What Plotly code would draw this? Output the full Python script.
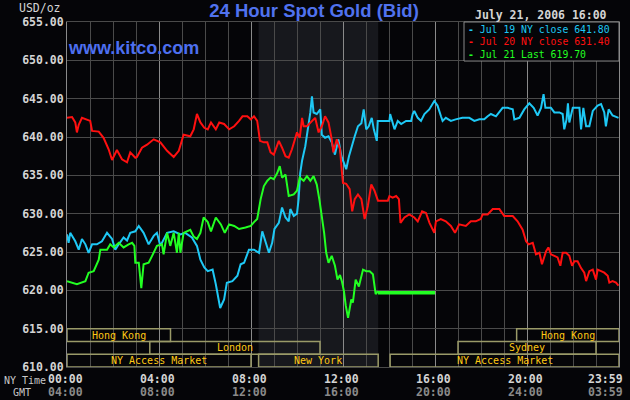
import plotly.graph_objects as go

# ------------------------
# Data (NY time in hours, price in USD/oz)
# ------------------------
jul19_hours = [0.00, 0.07, 0.14, 0.36, 0.51, 0.65, 0.80, 0.94, 1.09, 1.30, 1.52, 1.74, 1.96, 2.10,
               2.25, 2.46, 2.61, 2.75, 2.97, 3.12, 3.33, 3.55, 3.77, 3.91, 4.06, 4.35, 4.64, 4.93,
               5.14, 5.43, 5.65, 5.80, 5.97, 6.12, 6.33, 6.47, 6.66, 6.83, 6.95, 7.19, 7.41, 7.55,
               7.70, 7.91, 8.13, 8.35, 8.49, 8.63, 8.78, 8.92, 9.02, 9.21, 9.35, 9.50, 9.64, 9.71,
               9.86, 10.00, 10.07, 10.14, 10.22, 10.36, 10.43, 10.58, 10.65, 10.72, 10.86, 11.01,
               11.08, 11.22, 11.37, 11.51, 11.65, 11.80, 11.93, 12.14, 12.26, 12.36, 12.51, 12.65,
               12.80, 12.90, 13.01, 13.12, 13.25, 13.34, 13.47, 13.51, 14.02, 14.05, 14.17, 14.24,
               14.38, 14.53, 14.74, 14.96, 15.03, 15.10, 15.25, 15.39, 15.54, 15.75, 15.97, 16.11,
               16.26, 16.33, 16.47, 16.69, 16.90, 17.19, 17.49, 17.71, 17.93, 18.14, 18.29, 18.43,
               18.65, 18.94, 19.16, 19.38, 19.45, 19.67, 19.88, 20.10, 20.29, 20.46, 20.61, 20.72,
               20.80, 21.04, 21.19, 21.41, 21.55, 21.62, 21.72, 21.78, 21.84, 21.99, 22.20, 22.28,
               22.35, 22.45, 22.57, 22.71, 22.86, 23.07, 23.22, 23.36, 23.43, 23.55, 23.72, 23.98]
jul19_price = [627.3, 626.2, 627.5, 626.4, 625.3, 626.7, 626.0, 624.9, 626.0, 626.0, 626.4, 627.5,
               626.7, 625.3, 626.0, 626.9, 626.5, 627.5, 627.7, 628.4, 627.5, 626.0, 627.1, 627.5,
               625.8, 627.5, 627.7, 627.3, 627.5, 626.9, 625.8, 624.0, 623.0, 622.5, 622.7, 620.8,
               617.7, 618.8, 621.0, 621.2, 621.9, 623.4, 623.6, 625.3, 625.3, 624.9, 627.7, 626.2,
               624.9, 626.2, 628.0, 628.8, 630.8, 629.5, 629.0, 630.6, 629.7, 630.0, 631.9, 635.3,
               636.9, 638.8, 640.1, 643.2, 645.3, 643.2, 643.0, 643.6, 640.3, 639.9, 640.1, 639.3,
               637.7, 639.7, 637.5, 635.8, 637.5, 638.6, 640.1, 641.4, 641.8, 643.6, 641.0, 641.4,
               642.5, 641.0, 639.5, 642.1, 642.1, 643.0, 641.9, 641.0, 642.1, 641.7, 642.1, 642.1,
               643.0, 643.4, 642.5, 642.1, 643.0, 643.6, 644.7, 644.1, 642.7, 642.1, 642.5, 642.1,
               642.3, 642.5, 642.5, 642.1, 642.3, 642.3, 642.7, 643.0, 642.7, 643.8, 643.8, 643.6,
               642.3, 642.5, 643.6, 644.4, 643.8, 642.8, 643.8, 645.6, 643.8, 643.8, 643.2, 643.2,
               643.0, 641.0, 642.3, 644.4, 641.9, 643.8, 643.8, 643.8, 641.0, 643.8, 641.4, 641.4,
               643.4, 644.1, 644.3, 643.2, 641.4, 643.6, 642.8, 642.5]

jul20_hours = [0.00, 0.22, 0.36, 0.43, 0.51, 0.65, 1.01, 1.09, 1.38, 1.59, 1.81, 1.96, 2.17, 2.39,
               2.61, 2.75, 2.97, 3.04, 3.26, 3.48, 3.77, 4.06, 4.35, 4.64, 4.86, 5.00, 5.07, 5.36,
               5.51, 5.65, 5.80, 5.97, 6.12, 6.26, 6.47, 6.62, 6.83, 7.05, 7.27, 7.48, 7.63, 7.84,
               7.99, 8.13, 8.27, 8.39, 8.56, 8.71, 8.85, 8.99, 9.21, 9.35, 9.50, 9.64, 9.78, 10.00,
               10.12, 10.22, 10.29, 10.43, 10.58, 10.79, 10.94, 11.08, 11.22, 11.37, 11.51, 11.58,
               11.73, 11.87, 11.95, 12.00, 12.14, 12.29, 12.40, 12.51, 12.65, 12.80, 12.94, 13.08,
               13.23, 13.37, 13.52, 13.95, 14.02, 14.16, 14.31, 14.43, 14.50, 14.67, 14.88, 15.10,
               15.25, 15.44, 15.61, 15.76, 15.97, 16.04, 16.25, 16.47, 16.69, 16.87, 17.05, 17.34,
               17.56, 17.77, 17.99, 18.07, 18.29, 18.51, 18.80, 19.01, 19.38, 19.59, 19.81, 19.96,
               20.07, 20.25, 20.39, 20.54, 20.65, 20.83, 20.93, 21.04, 21.19, 21.33, 21.45, 21.55,
               21.70, 21.84, 21.96, 22.06, 22.20, 22.35, 22.49, 22.57, 22.71, 22.86, 23.00, 23.07,
               23.22, 23.36, 23.51, 23.58, 23.72, 23.87, 23.98]
jul20_price = [642.5, 642.6, 641.9, 640.6, 641.6, 642.5, 642.1, 640.8, 640.7, 639.9, 638.4, 637.0,
               638.3, 637.1, 636.7, 638.0, 637.3, 637.4, 638.6, 639.0, 639.7, 639.3, 638.2, 637.4,
               638.2, 639.5, 640.3, 640.1, 641.0, 643.0, 641.9, 641.2, 641.0, 641.9, 641.0, 641.9,
               641.7, 641.0, 641.4, 642.1, 642.7, 642.7, 642.3, 642.7, 642.1, 639.5, 639.3, 639.3,
               638.0, 637.7, 639.5, 638.6, 637.5, 637.3, 638.4, 640.6, 639.9, 642.5, 641.4, 641.4,
               641.9, 642.5, 640.6, 641.4, 642.7, 641.9, 639.7, 638.0, 639.7, 638.4, 635.5, 634.0,
               633.9, 633.2, 630.3, 631.9, 632.5, 631.9, 629.3, 631.0, 633.8, 633.0, 631.7, 631.7,
               632.3, 632.1, 632.3, 631.9, 628.8, 629.5, 629.9, 629.5, 629.0, 630.3, 630.1, 628.8,
               627.5, 629.0, 629.3, 629.0, 628.4, 627.5, 628.6, 628.4, 629.0, 629.0, 629.3, 629.9,
               629.9, 630.6, 630.6, 629.7, 629.7, 629.0, 627.9, 626.4, 626.0, 626.2, 624.7, 624.9,
               623.4, 625.1, 625.6, 624.7, 624.5, 624.3, 623.2, 624.9, 624.9, 624.5, 623.2, 623.8,
               623.8, 622.9, 622.3, 621.2, 622.5, 622.7, 621.4, 622.7, 622.5, 622.3, 621.9, 621.0,
               621.2, 621.0, 620.6]

jul21_hours = [0.00, 0.43, 0.80, 0.94, 1.16, 1.38, 1.45, 1.74, 1.88, 2.03, 2.25, 2.46, 2.68, 2.83,
               2.93, 2.97, 3.12, 3.19, 3.23, 3.33, 3.55, 3.70, 3.91, 4.13, 4.20, 4.35, 4.49, 4.64,
               4.78, 4.86, 4.93, 5.07, 5.36, 5.51, 5.65, 5.80, 5.94, 6.12, 6.26, 6.47, 6.69, 6.86,
               7.05, 7.27, 7.48, 7.76, 7.99, 8.13, 8.27, 8.42, 8.56, 8.71, 8.85, 8.99, 9.14, 9.25,
               9.35, 9.50, 9.64, 9.86, 10.00, 10.12, 10.29, 10.43, 10.58, 10.72, 10.86, 10.98,
               11.08, 11.18, 11.27, 11.37, 11.51, 11.65, 11.76, 11.87, 11.95, 12.04, 12.12, 12.22,
               12.36, 12.43, 12.55, 12.69, 12.87, 13.01, 13.16, 13.30, 13.42, 13.52]
jul21_price = [621.2, 620.8, 621.2, 622.3, 622.5, 624.0, 625.3, 625.3, 626.0, 625.6, 626.2, 625.6,
               626.0, 626.2, 625.8, 623.6, 623.6, 621.9, 620.3, 623.4, 623.6, 624.5, 625.8, 626.0,
               624.7, 627.5, 625.8, 627.5, 624.9, 627.5, 624.9, 627.5, 627.9, 627.0, 626.7, 627.5,
               629.5, 628.9, 627.7, 629.5, 628.6, 627.5, 628.6, 628.4, 628.0, 628.2, 628.4, 628.9,
               629.3, 631.9, 633.6, 634.3, 634.7, 634.5, 635.3, 636.2, 634.7, 635.1, 632.3, 632.5,
               633.0, 634.7, 634.3, 634.9, 634.3, 634.9, 633.8, 631.7, 629.7, 627.5, 624.9, 623.6,
               624.5, 623.2, 621.4, 622.0, 621.2, 619.9, 618.0, 616.4, 618.8, 618.4, 621.4, 620.5,
               622.7, 622.5, 622.5, 622.1, 619.5, 619.9]

# last price held flat until the snapshot time
last_hours = [13.52, 16.0]
last_price = [619.7, 619.7]

series_names = ["Jul 19 NY close 641.80", "Jul 20 NY close 631.40", "Jul 21 Last 619.70"]
series_colors = ["#1ec8f5", "#ff1010", "#22ff22"]

# market sessions: (name, start hour, end hour, row)
sessions = [
    ("Hong Kong", 0.0, 4.5, 0),
    ("London", 3.6, 11.0, 1),
    ("NY Access Market", 0.0, 8.0, 2),
    ("New York", 8.33, 13.53, 2),
    ("NY Access Market", 14.05, 24.0, 2),
    ("Sydney", 17.0, 23.0, 1),
    ("Hong Kong", 19.55, 24.0, 0),
]
row_edges = [(613.33, 615.0), (611.67, 613.33), (610.0, 611.67)]

tick_hours = [0, 4, 8, 12, 16, 20, 24]
ny_ticks = ["00:00", "04:00", "08:00", "12:00", "16:00", "20:00", "23:59"]
gmt_ticks = ["04:00", "08:00", "12:00", "16:00", "20:00", "24:00", "03:59"]

# ------------------------
# Layout helpers (pixel -> paper)
# ------------------------
L, R, T, B = 67, 619, 22, 366.7
def px(x):
    return (x - L) / (R - L)
def py(y):
    return (B - y) / (B - T)

MONO = "DejaVu Sans Mono"

fig = go.Figure()

for hrs, prc, col, name in zip([jul19_hours, jul20_hours, jul21_hours],
                               [jul19_price, jul20_price, jul21_price],
                               series_colors, series_names):
    fig.add_trace(go.Scatter(x=hrs, y=prc, mode="lines", name=name,
                             line=dict(color=col, width=2)))
fig.add_trace(go.Scatter(x=last_hours, y=last_price, mode="lines",
                         line=dict(color=series_colors[2], width=3.5)))

# New York trading hours shading
fig.add_shape(type="rect", xref="x", yref="y", x0=8.33, x1=13.53, y0=610, y1=655,
              fillcolor="#17181d", line_width=0, layer="below")

# session boxes
for name, s, e, row in sessions:
    y0, y1 = row_edges[row]
    fig.add_shape(type="rect", xref="x", yref="y", x0=s, x1=e, y0=y0, y1=y1,
                  line=dict(color="#9a9a68", width=1.5), fillcolor="rgba(0,0,0,0)")
    fig.add_annotation(x=(s + e) / 2, y=(y0 + y1) / 2, xref="x", yref="y", text=name,
                       showarrow=False, yanchor="middle",
                       font=dict(family=MONO, size=10, color="#ffc814"))

# x labels (NY time and GMT)
for i, (h, ny, gmt) in enumerate(zip(tick_hours, ny_ticks, gmt_ticks)):
    anchor = "right" if i == len(tick_hours) - 1 else "center"
    shift = 6 if anchor == "right" else -2
    fig.add_annotation(x=h, y=py(379), xref="x", yref="paper", text=ny, showarrow=False,
                       xanchor=anchor, yanchor="middle", xshift=shift,
                       font=dict(family=MONO, size=11.5, color="#d4d4d4", weight="bold"))
    fig.add_annotation(x=h, y=py(392), xref="x", yref="paper", text=gmt, showarrow=False,
                       xanchor=anchor, yanchor="middle", xshift=shift,
                       font=dict(family=MONO, size=11.5, color="#8a8a8a", weight="bold"))
fig.add_annotation(x=px(2), y=py(380), xref="paper", yref="paper", text="NY Time",
                   showarrow=False, xanchor="left", yanchor="middle",
                   font=dict(family=MONO, size=10, color="#c8c8c8"))
fig.add_annotation(x=px(11), y=py(392), xref="paper", yref="paper", text="GMT",
                   showarrow=False, xanchor="left", yanchor="middle",
                   font=dict(family=MONO, size=10, color="#c8c8c8"))

fig.add_annotation(x=px(63), y=py(8), xref="paper", yref="paper", text="USD/oz", showarrow=False,
                   xanchor="right", yanchor="middle",
                   font=dict(family=MONO, size=11.5, color="#d4d4d4"))
fig.add_annotation(x=px(66), y=py(48), xref="paper", yref="paper", text="www.kitco.com",
                   showarrow=False, xanchor="left", yanchor="middle",
                   font=dict(family="Liberation Sans", size=18, color="#4d6ff0", weight="bold"))

# legend box
fig.add_annotation(x=px(609), y=py(15), xref="paper", yref="paper", text="July 21, 2006 16:00",
                   showarrow=False, xanchor="right", yanchor="middle",
                   font=dict(family=MONO, size=11.5, color="#d4d4d4", weight="bold"))
fig.add_shape(type="rect", xref="paper", yref="paper", x0=px(464), x1=px(619), y0=py(61), y1=py(22),
              fillcolor="#050508", line=dict(color="#8a8a8a", width=1))
for i, (name, col) in enumerate(zip(series_names, series_colors)):
    fig.add_annotation(x=px(466), y=py(29.5 + 12.3 * i), xref="paper", yref="paper",
                       text="<b>-</b> " + name, showarrow=False, xanchor="left", yanchor="middle",
                       font=dict(family=MONO, size=9.8, color=col))

fig.update_layout(
    width=630, height=400,
    margin=dict(l=L, r=630 - R, t=T, b=400 - B),
    paper_bgcolor="#050508", plot_bgcolor="#050508",
    showlegend=False,
    title=dict(text="24 Hour Spot Gold (Bid)", x=314 / 630, xanchor="center",
               y=1 - 11 / 400, yanchor="middle",
               font=dict(family="Liberation Sans", size=18.5, color="#5072ee", weight="bold")),
    xaxis=dict(range=[0, 24], tick0=0, dtick=4, showticklabels=False, ticks="",
               showgrid=True, gridcolor="#8a8a8a", gridwidth=1, zeroline=False,
               minor=dict(dtick=1, showgrid=True, gridcolor="#4a4a4a", gridwidth=1),
               showline=True, mirror=True, linecolor="#4a4a4a", linewidth=1),
    yaxis=dict(range=[610, 655], tick0=610, dtick=5, tickformat=".2f", ticks="",
               showgrid=True, gridcolor="#4a4a4a", gridwidth=1, zeroline=False,
               showline=True, mirror=True, linecolor="#8a8a8a", linewidth=1,
               tickfont=dict(family=MONO, size=11.5, color="#d4d4d4", weight="bold")),
)

# page body has a default margin; remove it so the figure sits at the window corner
fig.write_html("out.html", config={"displayModeBar": False},
               post_script="document.body.style.margin='0';")
